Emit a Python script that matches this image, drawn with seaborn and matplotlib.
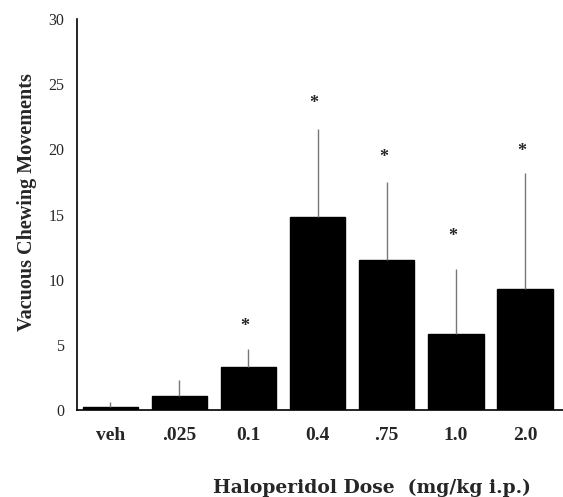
import matplotlib
matplotlib.use("Agg")
import matplotlib.pyplot as plt
import seaborn as sns
import pandas as pd
import numpy as np

doses = ["veh", ".025", "0.1", "0.4", ".75", "1.0", "2.0"]
means = [0.2, 1.05, 3.3, 14.8, 11.5, 5.8, 9.3]
err_upper = [0.4, 1.25, 1.4, 6.8, 6.0, 5.0, 8.9]
significant = [False, False, True, True, True, True, True]
star_gap = [0, 0, 1.7, 1.9, 1.9, 2.5, 1.6]

sns.set_style("white")
plt.rcParams["font.family"] = ["Liberation Serif", "DejaVu Serif"]

df = pd.DataFrame({"dose": doses, "mean": means})

fig = plt.figure(figsize=(5.63, 4.97), dpi=100)
ax = fig.add_axes([0.1368, 0.175, 0.8632, 0.7867])

sns.barplot(data=df, x="dose", y="mean", color="black", saturation=1,
            width=0.8, errorbar=None, ax=ax, edgecolor="black")

xs = np.arange(len(doses))
ax.errorbar(xs, means, yerr=[np.zeros(len(means)), err_upper], fmt="none",
            ecolor="#777777", elinewidth=1.0, capsize=0, zorder=1)
for i, sig in enumerate(significant):
    if sig:
        ax.text(xs[i] - 0.05, means[i] + err_upper[i] + star_gap[i], "*",
                ha="center", va="center", fontsize=13, fontweight="bold")

ax.set_ylim(0, 30)
ax.set_xlim(-0.48, 6.55)
ax.set_yticks([0, 5, 10, 15, 20, 25, 30])
ax.tick_params(axis="both", length=0)
ax.tick_params(axis="y", labelsize=11.5, pad=9)
ax.tick_params(axis="x", labelsize=14, pad=12)
for lab in ax.get_xticklabels():
    lab.set_fontweight("bold")

for s in ["top", "right"]:
    ax.spines[s].set_visible(False)
for s in ["left", "bottom"]:
    ax.spines[s].set_color("black")
    ax.spines[s].set_linewidth(1.2)

ax.set_ylabel("Vacuous Chewing Movements", fontsize=14.5, fontweight="bold")
ax.yaxis.set_label_coords(-0.082, 0.533)
ax.set_xlabel("Haloperidol Dose  (mg/kg i.p.)", fontsize=13.5, fontweight="bold",
              family=["DejaVu Serif"])
ax.xaxis.set_label_coords(0.607, -0.176)

fig.savefig("out.png", dpi=100)
